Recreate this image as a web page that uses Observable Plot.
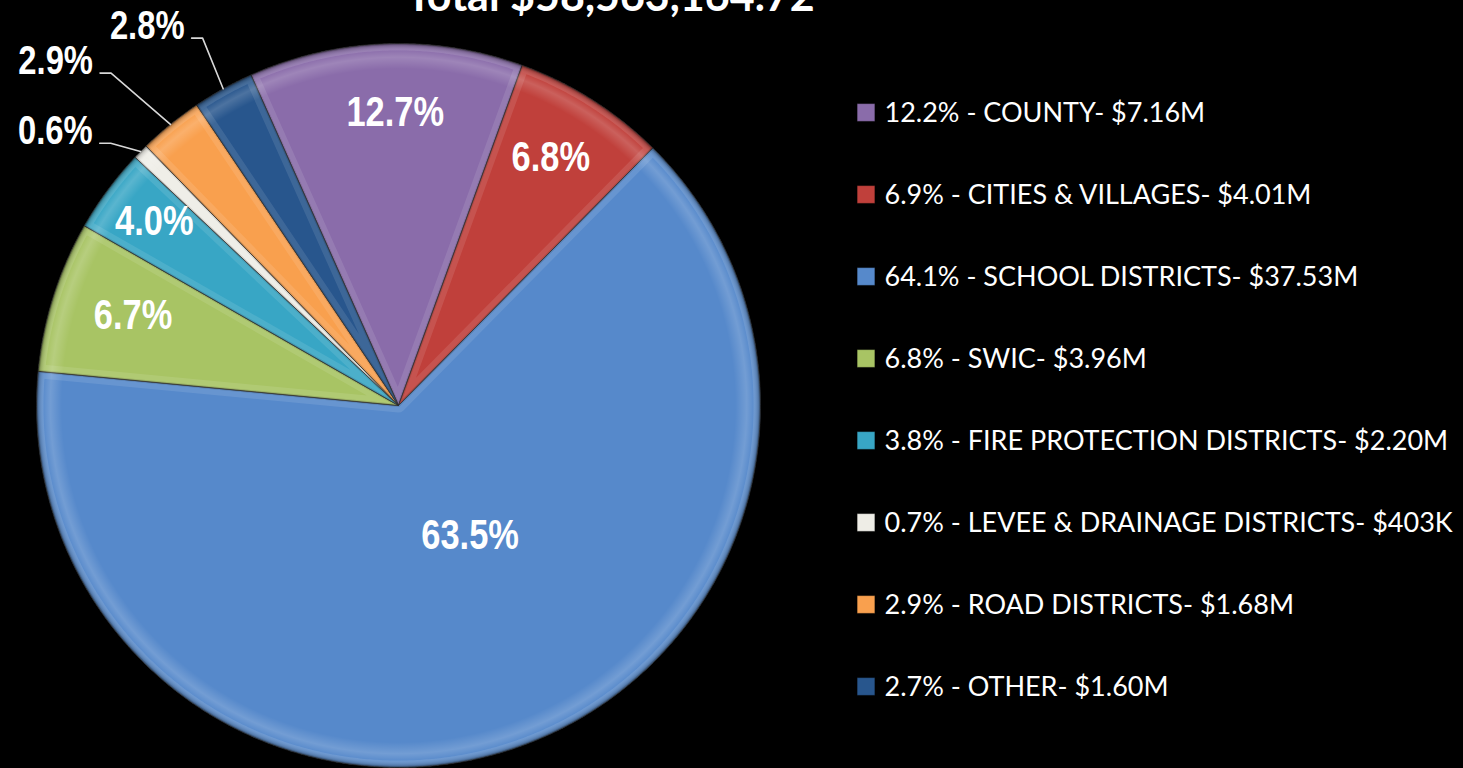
<!DOCTYPE html>
<html><head><meta charset="utf-8">
<script src="https://cdn.jsdelivr.net/npm/d3@7"></script>
<script src="https://cdn.jsdelivr.net/npm/@observablehq/plot@0.6"></script>
<style>
html,body{margin:0;padding:0;background:#000;overflow:hidden;}
#wrap{position:relative;width:1463px;height:768px;background:#000;overflow:hidden;}
#main{position:absolute;left:0;top:0;width:1463px;}
#legend{position:absolute;left:840px;top:0;width:623px;}
</style></head><body>
<div id="wrap"><div id="main"></div><div id="legend"></div></div>
<script>
// ---- data ----
const title = "Total $58,563,164.72";
const categories = ["COUNTY","CITIES & VILLAGES","SCHOOL DISTRICTS","SWIC","FIRE PROTECTION DISTRICTS","LEVEE & DRAINAGE DISTRICTS","ROAD DISTRICTS","OTHER"];
const amountsM = [7.16, 4.01, 37.53, 3.96, 2.20, 0.403, 1.68, 1.60];
const sliceLabels = ["12.7%","6.8%","63.5%","6.7%","4.0%","0.6%","2.9%","2.8%"];
const legendPercents = ["12.2%","6.9%","64.1%","6.8%","3.8%","0.7%","2.9%","2.7%"];
const legendAmounts = ["$7.16M","$4.01M","$37.53M","$3.96M","$2.20M","$403K","$1.68M","$1.60M"];
const colors = ["#8A6CAA","#C0403B","#5689CB","#A8C464","#38A6C5","#EEEDE6","#F9A04E","#28568D"];

// ---- layout ----
const W = 1463, H = 768, CX = 398, CY = 405, R = 362, START_DEG = -24.05;
// label placement per slice: outside?, angle offset (deg), radius factor
const labelLayout = [
  {out:false, da: 1.4, k:0.81},
  {out:false, da:-0.8, k:0.805},
  {out:false, da:-8.8, k:0.411},
  {out:false, da: 1.1, k:0.774},
  {out:false, da: 0.5, k:0.845},
  {out:true,  da:-2.2, k:1.0755},
  {out:true,  da:-1.8, k:1.214},
  {out:true,  da: 0.9, k:1.150}
];
const NARROW = 0.82; // Arial Narrow ≈ Arial condensed to 82%
const rad = Math.PI/180;
const table = categories.map((c,i)=>({key:c, amount:amountsM[i], label:sliceLabels[i]}));
const arcs = d3.pie().sort(null).value(d=>d.amount)
  .startAngle(START_DEG*rad).endAngle(START_DEG*rad + 2*Math.PI)(table);

const pt = (a, k) => ({x: k*Math.sin(a), y: k*Math.cos(a)});
const slicePts = [];
arcs.forEach(a=>{
  const key = a.data.key;
  slicePts.push({key, ...pt(0,0)});
  const n = Math.max(2, Math.ceil((a.endAngle - a.startAngle)/(0.4*rad)));
  for (let j=0;j<=n;j++) slicePts.push({key, ...pt(a.startAngle + (a.endAngle-a.startAngle)*j/n, 1)});
  slicePts.push({key, ...pt(0,0)});
});
const inside = [], outside = [], leaders = [];
const hLen = 11/R;
arcs.forEach((a,i)=>{
  const L = labelLayout[i];
  const mid = (a.startAngle + a.endAngle)/2;
  const p = pt(mid + L.da*rad, L.k);
  if (!L.out) inside.push({...p, text:a.data.label});
  else {
    const e = pt(mid, 1);
    const end = {x:p.x - hLen, y:p.y};
    leaders.push({key:a.data.key, ...e},{key:a.data.key, ...p},{key:a.data.key, ...end});
    outside.push({...end, text:a.data.label});
  }
});

const color = {domain: categories, range: colors};
const labelFont = "'Liberation Sans', Arial, sans-serif";
const main = Plot.plot({
  width: W, height: H, margin: 0,
  style: {background:"#000"},
  x: {domain:[-CX/R, (W-CX)/R], range:[0,W], axis:null},
  y: {domain:[(CY-H)/R, CY/R], range:[H,0], axis:null},
  color,
  marks: [
    Plot.line(slicePts, {x:"x", y:"y", z:"key", fill:"key", stroke:"#262626", strokeWidth:0.8, strokeLinejoin:"round"}),
    Plot.dot([{x:0,y:0}], {x:"x", y:"y", r:R, fill:"url(#pieBevel)", stroke:"none"}),
    Plot.line(leaders, {x:"x", y:"y", z:"key", stroke:"#d8d8d8", strokeWidth:1.6}),
    Plot.text(inside, {x:"x", y:"y", text:"text", fill:"#fff", fontSize:42, fontWeight:"bold",
      fontFamily:labelFont, lineAnchor:"middle", textAnchor:"middle"}),
    Plot.text(outside, {x:"x", y:"y", text:"text", fill:"#fff", fontSize:40, fontWeight:"bold",
      fontFamily:labelFont, lineAnchor:"bottom", textAnchor:"end", dx:-7, dy:1}),
    Plot.text([title], {frameAnchor:"top-left", dx:610, dy:10, text:d=>d, fill:"#fff", fontSize:43, fontWeight:"bold",
      fontFamily:"Lato, sans-serif", textAnchor:"middle", lineAnchor:"bottom"})
  ]
});
const svg = d3.select(main);
const defs = svg.insert("defs", ":first-child");
const g = defs.append("radialGradient").attr("id","pieBevel").attr("cx","50%").attr("cy","50%").attr("r","50%");
[[0,"#fff",0],[0.93,"#fff",0],[0.962,"#fff",0.17],[0.98,"#fff",0.04],[0.993,"#000",0.15],[1,"#000",0.4]]
  .forEach(([o,c,a])=>g.append("stop").attr("offset",o).attr("stop-color",c).attr("stop-opacity",a));

// soft bevel band along each slice's edges (clipped inside the slice)
const slicePaths = svg.select('g[aria-label="line"]').selectAll("path").nodes();
slicePaths.forEach((p,i)=>{
  const d = p.getAttribute("d");
  defs.append("clipPath").attr("id","sliceClip"+i).append("path").attr("d", d);
  const parent = d3.select(p.parentNode);
  parent.append("path").attr("d", d).attr("fill","none").attr("stroke","#fff")
    .attr("stroke-opacity",0.1).attr("stroke-width",14).attr("clip-path",`url(#sliceClip${i})`);
  parent.append("path").attr("d", d).attr("fill","none").attr("stroke","#000")
    .attr("stroke-opacity",0.12).attr("stroke-width",3).attr("clip-path",`url(#sliceClip${i})`);
});

// condense slice labels horizontally (Arial Narrow look)
svg.selectAll("text").filter(function(){ return sliceLabels.includes(this.textContent); }).each(function(){
  const t = this, tr = t.getAttribute("transform");
  if (tr) t.setAttribute("transform", tr + ` scale(${NARROW},1)`);
  else {
    const x = +t.getAttribute("x") || 0, y = +t.getAttribute("y") || 0;
    t.removeAttribute("x"); t.removeAttribute("y");
    t.setAttribute("transform", `translate(${x},${y}) scale(${NARROW},1)`);
  }
});
document.getElementById("main").append(main);

const legendData = categories.map((c,i)=>({key:c, text:`${legendPercents[i]} - ${c}- ${legendAmounts[i]}`}));
const legend = Plot.plot({
  width: 623, height: H, margin: 0,
  style: {background:"transparent"},
  y: {type:"point", domain: categories, range:[112, 112 + 7*82.14], padding:0, axis:null},
  color,
  marks: [
    Plot.dot(legendData, {y:"key", frameAnchor:"left", dx:25.5, symbol:"square", r:10, fill:"key", stroke:"rgba(0,0,0,0.35)", strokeWidth:1}),
    Plot.text(legendData, {y:"key", frameAnchor:"left", dx:44, text:"text", fill:"#fff", fontSize:27,
      fontFamily:"Lato, sans-serif", textAnchor:"start", lineAnchor:"middle", dy:1})
  ]
});
document.getElementById("legend").append(legend);
</script>
</body></html>
